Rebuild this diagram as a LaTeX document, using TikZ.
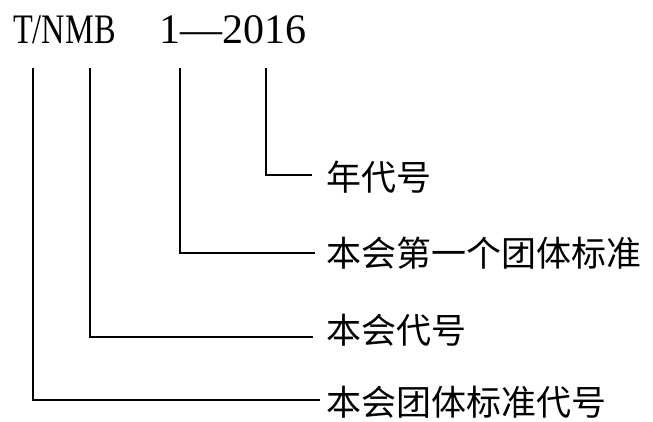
\documentclass[tikz,border=0pt]{standalone}
\usepackage{fontspec}
\usepackage{graphicx}
\setmainfont{Liberation Serif}
\newfontfamily\cjk{Noto Sans CJK SC}
\tikzset{
  lead/.style={line width=1.4pt, black},
  lab/.style={anchor=west, inner sep=0pt, text height=26pt, text depth=4pt, font=\cjk\fontsize{35}{40}\selectfont},
  codetxt/.style={anchor=base west, inner sep=0pt, font=\fontsize{42}{48}\selectfont}
}
\begin{document}
\begin{tikzpicture}[x=1pt,y=-1pt]
\useasboundingbox (0,0) rectangle (653,421);
\node[codetxt] (code) at (13,43) {\scalebox{0.77}[1]{T/NMB}};
\node[codetxt] (num) at (159,43) {1—2016};
\node[lab] (l1) at (326,179) {年代号};
\node[lab] (l2) at (326,255) {本会第一个团体标准};
\node[lab] (l3) at (326,332) {本会代号};
\node[lab] (l4) at (326,404) {本会团体标准代号};
\coordinate (s1) at (266,68);
\coordinate (s2) at (180,68);
\coordinate (s3) at (90,68);
\coordinate (s4) at (33,68);
\coordinate (e1) at (312,175);
\coordinate (e2) at (315,253);
\coordinate (e3) at (313,337);
\coordinate (e4) at (320,400);
\draw[lead, line width=2pt] (s1) |- (e1);
\draw[lead] (s2) |- (e2);
\draw[lead] (s3) |- (e3);
\draw[lead] (s4) |- (e4);
\end{tikzpicture}
\end{document}
